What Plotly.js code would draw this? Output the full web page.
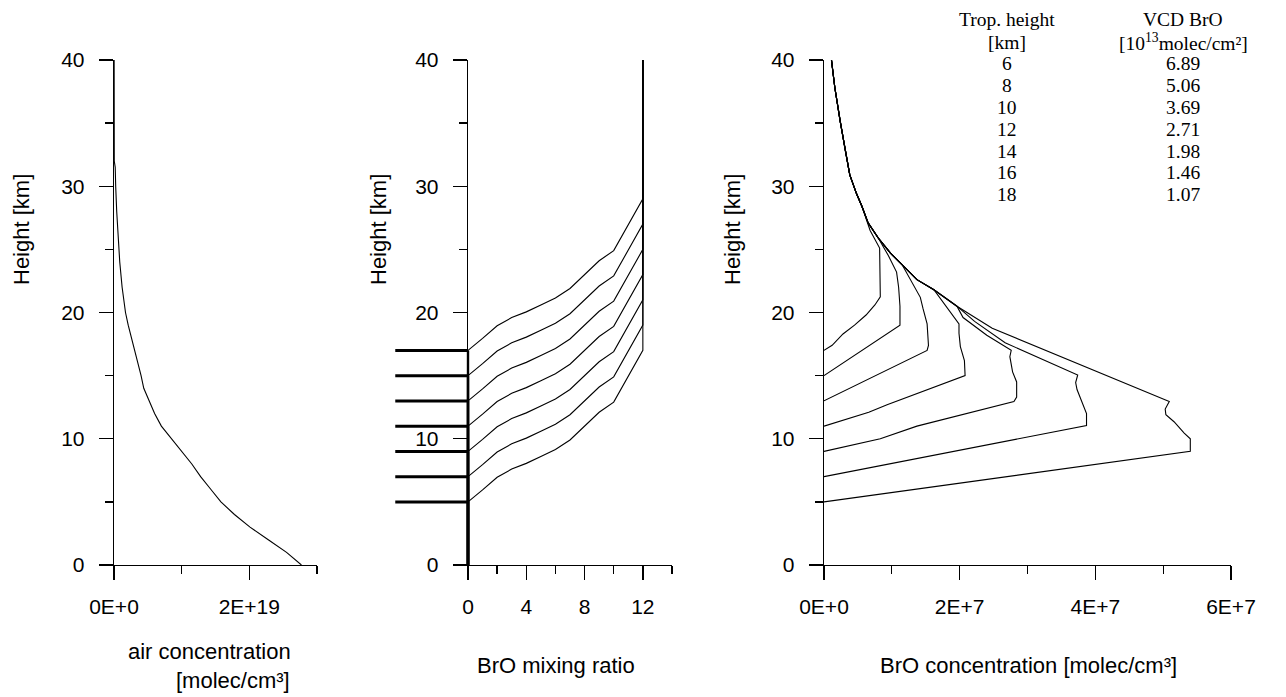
<!DOCTYPE html>
<html><head><meta charset="utf-8">
<script src="https://cdn.plot.ly/plotly-3.0.1.min.js"></script>
<style>html,body{margin:0;padding:0;background:#fff}</style>
</head><body>
<div id="chart" style="width:1286px;height:697px"></div>
<script>
// ---------- DATA ----------
// Panel 1: air concentration profile
const airHeight = [0,1,2,3,4,5,6,7,8,9,10,11,12,13,14,15,16,17,18,19,20,22,24,26,28,30,31.5,32,35,40];
const airConc = [2.77e19,2.55e19,2.28e19,2.01e19,1.78e19,1.58e19,1.43e19,1.28e19,1.15e19,1.00e19,0.84e19,0.70e19,0.60e19,0.52e19,0.44e19,0.40e19,0.35e19,0.30e19,0.25e19,0.21e19,0.17e19,0.12e19,0.085e19,0.06e19,0.04e19,0.025e19,0.018e19,0.004e19,0.003e19,0.002e19];

// Panel 2: BrO mixing ratio profiles, one per tropopause height
const tropopauseHeights = [5,7,9,11,13,15,17];
const tropMarkX = [-5, 0];
const mixRatio = [0,0,1,2,3,4,5,6,7,8,9,10,12,12];
const mixHeight_tp5  = [0,5,5.95,6.95,7.6,8.05,8.6,9.15,9.9,11.0,12.1,12.9,17.0,40];
const mixHeight_tp7  = [0,7,7.95,8.95,9.6,10.05,10.6,11.15,11.9,13.0,14.1,14.9,19.0,40];
const mixHeight_tp9  = [0,9,9.95,10.95,11.6,12.05,12.6,13.15,13.9,15.0,16.1,16.9,21.0,40];
const mixHeight_tp11 = [0,11,11.95,12.95,13.6,14.05,14.6,15.15,15.9,17.0,18.1,18.9,23.0,40];
const mixHeight_tp13 = [0,13,13.95,14.95,15.6,16.05,16.6,17.15,17.9,19.0,20.1,20.9,25.0,40];
const mixHeight_tp15 = [0,15,15.95,16.95,17.6,18.05,18.6,19.15,19.9,21.0,22.1,22.9,27.0,40];
const mixHeight_tp17 = [0,17,17.95,18.95,19.6,20.05,20.6,21.15,21.9,23.0,24.1,24.9,29.0,40];

// Panel 3: BrO concentration profiles
const broConc_tp5 = [0,5.40e7,5.40e7,5.31e7,5.16e7,5.04e7,5.03e7,5.09e7,2.48e7,1.96e7,1.62e7,1.37e7,1.15e7,0.98e7,0.80e7,0.65e7,0.56e7,0.48e7,0.38e7,0.31e7,0.24e7,0.16e7,0.11e7];
const broHeight_tp5 = [5.0,9.0,10.0,10.45,11.35,11.9,12.35,12.95,18.75,20.5,21.8,22.6,23.8,24.7,25.9,27.1,28.4,29.4,30.9,32.9,35.1,37.8,40];
const broConc_tp7 = [0,3.87e7,3.87e7,3.81e7,3.73e7,3.71e7,3.74e7,2.67e7,2.22e7,1.96e7,1.62e7,1.37e7,1.15e7,0.98e7,0.80e7,0.65e7,0.56e7,0.48e7,0.38e7,0.31e7,0.24e7,0.16e7,0.11e7];
const broHeight_tp7 = [7.0,11.05,12.0,12.8,13.9,14.45,15.05,17.6,19.3,20.5,21.8,22.6,23.8,24.7,25.9,27.1,28.4,29.4,30.9,32.9,35.1,37.8,40];
const broConc_tp9 = [0,0.83e7,1.37e7,2.80e7,2.84e7,2.84e7,2.78e7,2.74e7,2.76e7,2.40e7,2.05e7,1.96e7,1.62e7,1.37e7,1.15e7,0.98e7,0.80e7,0.65e7,0.56e7,0.48e7,0.38e7,0.31e7,0.24e7,0.16e7,0.11e7];
const broHeight_tp9 = [9.0,10.0,11.0,12.95,13.3,14.5,15.3,16.5,17.0,18.2,19.6,20.5,21.8,22.6,23.8,24.7,25.9,27.1,28.4,29.4,30.9,32.9,35.1,37.8,40];
const broConc_tp11 = [0,0.66e7,0.93e7,1.37e7,2.08e7,2.07e7,2.01e7,1.99e7,1.99e7,1.62e7,1.37e7,1.15e7,0.98e7,0.80e7,0.65e7,0.56e7,0.48e7,0.38e7,0.31e7,0.24e7,0.16e7,0.11e7];
const broHeight_tp11 = [11.0,12.1,12.7,13.6,15.0,16.2,17.3,18.35,19.1,21.8,22.6,23.8,24.7,25.9,27.1,28.4,29.4,30.9,32.9,35.1,37.8,40];
const broConc_tp13 = [0,1.52e7,1.54e7,1.52e7,1.46e7,1.42e7,1.15e7,0.98e7,0.80e7,0.65e7,0.56e7,0.48e7,0.38e7,0.31e7,0.24e7,0.16e7,0.11e7];
const broHeight_tp13 = [13.0,17.0,17.4,19.1,20.3,21.2,23.8,24.7,25.9,27.1,28.4,29.4,30.9,32.9,35.1,37.8,40];
const broConc_tp15 = [0,1.12e7,1.12e7,1.10e7,1.07e7,0.95e7,0.80e7,0.65e7,0.56e7,0.48e7,0.38e7,0.31e7,0.24e7,0.16e7,0.11e7];
const broHeight_tp15 = [15.0,19.0,20.5,22.0,23.2,24.5,25.9,27.1,28.4,29.4,30.9,32.9,35.1,37.8,40];
const broConc_tp17 = [0,0.12e7,0.28e7,0.45e7,0.62e7,0.75e7,0.83e7,0.83e7,0.82e7,0.68e7,0.56e7,0.48e7,0.38e7,0.31e7,0.24e7,0.16e7,0.11e7];
const broHeight_tp17 = [17.0,17.4,18.3,19.0,19.8,20.6,21.25,23.0,25.1,26.5,28.4,29.4,30.9,32.9,35.1,37.8,40];

// Table in the corner
const tableTropHeight = ['6','8','10','12','14','16','18'];
const tableVCD = ['6.89','5.06','3.69','2.71','1.98','1.46','1.07'];

// Axis ticks
const yTickVals = [0,10,20,30,40];
const yMinorVals = [5,15,25,35];
const x1TickVals = [0,2e19], x1TickText = ['0E+0','2E+19'], x1MinorVals = [1e19,3e19];
const x2TickVals = [0,4,8,12], x2MinorVals = [2,6,10,14];
const x3TickVals = [0,2e7,4e7,6e7], x3TickText = ['0E+0','2E+7','4E+7','6E+7'], x3MinorVals = [1e7,3e7,5e7];

// ---------- LAYOUT ----------
const W = 1286, H = 697;
const px = p => p / W;
const py = p => 1 - p / H;
const yDom = [py(565), py(60)];
const p1 = [114, 317], p2 = [468, 672], p3 = [824, 1231];
const x2Range = [0, 14];
const ovlLeft = p2[0] - (0 - tropMarkX[0]) * (p2[1] - p2[0]) / (x2Range[1] - x2Range[0]);

const SANS = 'Liberation Sans, Arial, sans-serif';
const SERIF = 'Liberation Serif, Times New Roman, serif';
const tickFont = {family: SANS, size: 21, color: '#000'};

function xAx(dom, range, tv, tt, minorVals, anchor) {
  const a = {domain: [px(dom[0]), px(dom[1])], range: range, anchor: anchor,
    showline: true, linecolor: '#000', linewidth: 1.3, showgrid: false, zeroline: false,
    ticks: 'outside', ticklen: 14, tickwidth: 1.3, tickcolor: '#000',
    tickmode: 'array', tickvals: tv, tickfont: tickFont, ticklabelstandoff: 8,
    minor: {tickmode: 'array', tickvals: minorVals, ticks: 'outside', ticklen: 8, tickwidth: 1.3, tickcolor: '#000', showgrid: false},
    fixedrange: true};
  if (tt) a.ticktext = tt;
  return a;
}
function yAx(anchor) {
  return {domain: yDom, range: [0, 40], anchor: anchor,
    showline: true, linecolor: '#000', linewidth: 1.3, showgrid: false, zeroline: false,
    ticks: 'outside', ticklen: 14, tickwidth: 1.3, tickcolor: '#000',
    tickmode: 'array', tickvals: yTickVals, tickfont: tickFont, ticklabelstandoff: 10,
    minor: {tickmode: 'array', tickvals: yMinorVals, ticks: 'outside', ticklen: 8, tickwidth: 1.3, tickcolor: '#000', showgrid: false},
    fixedrange: true};
}

const line = {color: '#000', width: 1.1};
const traces = [];
traces.push({x: airConc, y: airHeight, xaxis: 'x', yaxis: 'y', mode: 'lines', line: line, hoverinfo: 'skip', showlegend: false});

const mixHeights = [mixHeight_tp5, mixHeight_tp7, mixHeight_tp9, mixHeight_tp11, mixHeight_tp13, mixHeight_tp15, mixHeight_tp17];
mixHeights.forEach(h => traces.push({x: mixRatio, y: h, xaxis: 'x2', yaxis: 'y2', mode: 'lines', line: line, hoverinfo: 'skip', showlegend: false}));
// zero mixing ratio below the tropopause (drawn along the axis, unclipped overlay)
mixHeights.forEach(h => traces.push({x: mixRatio.slice(0, 2), y: h.slice(0, 2), xaxis: 'x4', yaxis: 'y4', mode: 'lines', line: {color: '#000', width: 2.4}, hoverinfo: 'skip', showlegend: false}));
// tropopause markers
tropopauseHeights.forEach(h => traces.push({x: tropMarkX, y: [h, h], xaxis: 'x4', yaxis: 'y4', mode: 'lines', line: {color: '#000', width: 3}, hoverinfo: 'skip', showlegend: false}));

const bro = [[broConc_tp5, broHeight_tp5],[broConc_tp7, broHeight_tp7],[broConc_tp9, broHeight_tp9],[broConc_tp11, broHeight_tp11],[broConc_tp13, broHeight_tp13],[broConc_tp15, broHeight_tp15],[broConc_tp17, broHeight_tp17]];
bro.forEach(([c, h]) => traces.push({x: c, y: h, xaxis: 'x3', yaxis: 'y3', mode: 'lines', line: line, hoverinfo: 'skip', showlegend: false}));

const ann = [];
const lab = (text, x, y, opts) => Object.assign({text: text, xref: 'paper', yref: 'paper', x: px(x), y: py(y), showarrow: false, xanchor: 'center', yanchor: 'middle', font: {family: SANS, size: 22, color: '#000'}}, opts || {});
[22, 379, 733].forEach(x => ann.push(lab('Height [km]', x, 230, {textangle: -90})));
ann.push(lab('air concentration', 293, 651, {xanchor: 'right'}));
ann.push(lab('[molec/cm³]', 292, 680, {xanchor: 'right'}));
ann.push(lab('BrO mixing ratio', 556, 665));
ann.push(lab('BrO concentration [molec/cm³]', 1028, 665));

const serif = {family: SERIF, size: 19.5, color: '#000'};
ann.push(lab('Trop. height', 1007, 20, {font: serif}));
ann.push(lab('[km]', 1007, 42, {font: serif}));
ann.push(lab('VCD BrO', 1183, 20, {font: serif}));
ann.push(lab('[10<sup>13</sup>molec/cm²]', 1183, 42, {font: serif}));
tableTropHeight.forEach((t, i) => ann.push(lab(t, 1007, 64 + i * 21.8, {font: serif})));
tableVCD.forEach((t, i) => ann.push(lab(t, 1183, 64 + i * 21.8, {font: serif})));

const layout = {
  width: W, height: H, margin: {l: 0, r: 0, t: 0, b: 0},
  paper_bgcolor: '#fff', plot_bgcolor: 'rgba(0,0,0,0)', showlegend: false,
  xaxis: xAx(p1, [0, 3e19], x1TickVals, x1TickText, x1MinorVals, 'y'),
  yaxis: yAx('x'),
  xaxis2: xAx(p2, x2Range, x2TickVals, null, x2MinorVals, 'y2'),
  yaxis2: yAx('x2'),
  xaxis3: xAx(p3, [0, 6e7], x3TickVals, x3TickText, x3MinorVals, 'y3'),
  yaxis3: yAx('x3'),
  xaxis4: {domain: [px(ovlLeft), px(p2[1])], range: [tropMarkX[0], x2Range[1]], anchor: 'y4', visible: false, fixedrange: true},
  yaxis4: {domain: yDom, range: [0, 40], anchor: 'x4', visible: false, fixedrange: true},
  annotations: ann
};
Plotly.newPlot('chart', traces, layout, {staticPlot: true, displayModeBar: false});
</script>
</body></html>
